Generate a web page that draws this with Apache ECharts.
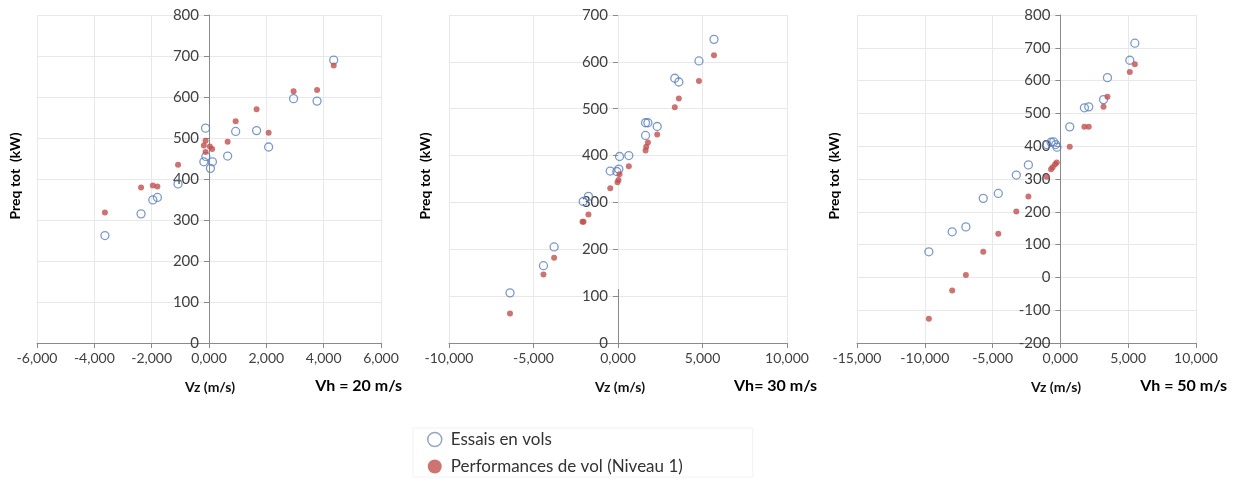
<!DOCTYPE html>
<html><head><meta charset="utf-8">
<script src="https://cdn.jsdelivr.net/npm/echarts@6/dist/echarts.min.js"></script>
<style>html,body{margin:0;padding:0;background:#fff}#c{width:1233px;height:482px}</style>
</head><body><div id="c"></div>
<script>
// ---- Data (Vz in m/s, Preq tot in kW) ----
const seriesNames = ['Essais en vols', 'Performances de vol (Niveau 1)'];
const panelLabels = ['Vh = 20 m/s', 'Vh= 30 m/s', 'Vh = 50 m/s'];

// Panel 1 : Vh = 20 m/s
const p1EssaisVz = [-3.63, -2.37, -1.96, -1.80, -1.08, -0.12, -0.18, -0.11, 0.12, 0.05, 0.65, 0.93, 1.66, 2.08, 2.95, 3.77, 4.35];
const p1EssaisP  = [262, 315, 349, 355, 388, 524, 442, 455, 442, 426, 456, 516, 518, 478, 596, 590, 690];
const p1PerfVz   = [-3.63, -2.37, -1.96, -1.80, -1.08, -0.18, -0.12, -0.12, 0.03, 0.11, 0.65, 0.93, 1.66, 2.08, 2.95, 3.77, 4.35];
const p1PerfP    = [318, 379, 384, 382, 435, 482, 493, 466, 479, 473, 491, 541, 570, 513, 614, 617, 677];

// Panel 2 : Vh = 30 m/s
const p2EssaisVz = [-6.39, -4.41, -3.78, -2.06, -1.75, -0.46, -0.07, 0.05, 0.09, 0.64, 1.63, 1.63, 1.77, 2.32, 3.36, 3.60, 4.79, 5.68];
const p2EssaisP  = [107, 165, 205, 302, 313, 367, 366, 371, 398, 400, 443, 470, 470, 462, 565, 557, 602, 648];
const p2PerfVz   = [-6.39, -4.41, -3.78, -2.10, -2.04, -1.75, -0.46, -0.03, 0.03, 0.09, 0.64, 1.63, 1.67, 1.77, 2.32, 3.36, 3.60, 4.79, 5.68];
const p2PerfP    = [63, 146, 182, 259, 259, 274, 330, 343, 348, 360, 377, 411, 419, 428, 445, 503, 522, 559, 614];

// Panel 3 : Vh = 50 m/s
const p3EssaisVz = [-9.70, -7.98, -6.97, -5.69, -4.58, -3.25, -2.36, -1.01, -0.69, -0.50, -0.35, -0.25, 0.69, 1.77, 2.09, 3.18, 3.47, 5.12, 5.49];
const p3EssaisP  = [78, 139, 154, 241, 256, 312, 343, 405, 412, 413, 405, 397, 459, 517, 520, 542, 609, 662, 714];
const p3PerfVz   = [-9.70, -7.98, -6.97, -5.69, -4.58, -3.25, -2.36, -1.01, -0.69, -0.57, -0.39, -0.27, 0.69, 1.77, 2.09, 3.18, 3.47, 5.12, 5.49];
const p3PerfP    = [-126, -40, 7, 78, 133, 201, 247, 307, 330, 336, 345, 350, 398, 459, 459, 520, 551, 626, 650];

// Axis ranges
const xMin = [-6, -10, -15], xMax = [6, 10, 10], xStep = [2, 5, 5];
const yMin = [0, 0, -200], yMax = [800, 700, 800], yStep = [100, 100, 100];
// visible stub of the vertical axis line in panel 2 (kW)
const p2AxisStub = [0, 115];

// ---- Layout / style ----
const FONT = 'Lato, "Open Sans", sans-serif';
const BLUE = '#5a80bd', RED = '#c0504d';
const grids = [
  {left: 37, top: 15, width: 344, height: 328},
  {left: 449, top: 15, width: 338, height: 328},
  {left: 857, top: 15, width: 339, height: 328}
];
const zip = (a, b) => a.map((v, i) => [v, b[i]]);
const fmtX = v => v.toFixed(3).replace('.', ',');

const essais = [zip(p1EssaisVz, p1EssaisP), zip(p2EssaisVz, p2EssaisP), zip(p3EssaisVz, p3EssaisP)];
const perf = [zip(p1PerfVz, p1PerfP), zip(p2PerfVz, p2PerfP), zip(p3PerfVz, p3PerfP)];

const xAxes = [], yAxes = [], series = [], graphics = [];
grids.forEach((g, i) => {
  // place the vertical axis where Vz = 0 (shift from grid's left edge)
  const zeroShift = g.width * (0 - xMin[i]) / (xMax[i] - xMin[i]);
  xAxes.push({
    type: 'value', gridIndex: i, min: xMin[i], max: xMax[i], interval: xStep[i],
    axisLine: {onZero: false, lineStyle: {color: '#8a8a8a', width: 1}},
    axisTick: {show: true, length: 5, lineStyle: {color: '#8a8a8a'}},
    axisLabel: {formatter: fmtX, color: '#404040', fontSize: 14, fontFamily: FONT, margin: 8},
    splitLine: {show: true, lineStyle: {color: '#e8e8e8', width: 1}}
  });
  yAxes.push({
    type: 'value', gridIndex: i, min: yMin[i], max: yMax[i], interval: yStep[i],
    position: 'left', offset: -zeroShift,
    axisLine: {show: i !== 1, onZero: false, lineStyle: {color: '#8a8a8a', width: 1}},
    axisTick: {show: true, length: 5, lineStyle: {color: '#8a8a8a'}},
    axisLabel: {color: '#404040', fontSize: 15, fontFamily: FONT, margin: 10},
    splitLine: {show: true, lineStyle: {color: '#e8e8e8', width: 1}}
  });
  const blue = {
    name: seriesNames[0], type: 'scatter', xAxisIndex: i, yAxisIndex: i,
    data: essais[i], symbol: 'circle', symbolSize: 8,
    itemStyle: {color: 'rgba(255,255,255,0)', borderColor: BLUE, borderWidth: 1.3},
    emphasis: {disabled: true}, z: 3
  };
  if (i === 1) {
    blue.markLine = {
      silent: true, symbol: 'none', animation: false,
      label: {show: false},
      lineStyle: {color: '#8a8a8a', type: 'solid', width: 1},
      data: [[{coord: [0, p2AxisStub[0]]}, {coord: [0, p2AxisStub[1]]}]]
    };
  }
  series.push(blue);
  series.push({
    name: seriesNames[1], type: 'scatter', xAxisIndex: i, yAxisIndex: i,
    data: perf[i], symbol: 'circle', symbolSize: 6,
    itemStyle: {color: RED}, emphasis: {disabled: true}, z: 4
  });
});

const yTitleX = [15, 425, 834];
const xTitleX = [210, 620, 1056];
const vhRight = [402, 817, 1227];
for (let i = 0; i < 3; i++) {
  graphics.push({
    type: 'text', x: yTitleX[i], y: 176, rotation: Math.PI / 2,
    style: {text: 'Preq tot  (kW)', font: 'bold 14px ' + FONT, fill: '#000', textAlign: 'center', textVerticalAlign: 'middle'}
  });
  graphics.push({
    type: 'text', x: xTitleX[i], y: 387,
    style: {text: 'Vz (m/s)', font: 'bold 14px ' + FONT, fill: '#111', textAlign: 'center', textVerticalAlign: 'middle'}
  });
  graphics.push({
    type: 'text', x: vhRight[i], y: 386,
    style: {text: panelLabels[i], font: 'bold 16px ' + FONT, fill: '#000', textAlign: 'right', textVerticalAlign: 'middle'}
  });
}

const chart = echarts.init(document.getElementById('c'), null, {renderer: 'canvas'});
chart.setOption({
  animation: false,
  backgroundColor: '#fff',
  grid: grids,
  xAxis: xAxes,
  yAxis: yAxes,
  series: series,
  legend: {
    orient: 'vertical', left: 413, top: 428, padding: [3, 70, 2, 14],
    borderColor: '#f2f2f2', borderWidth: 1,
    itemWidth: 14, itemHeight: 14, itemGap: 10,
    textStyle: {fontSize: 17, color: '#333', fontFamily: FONT, padding: [0, 0, 0, 4]},
    data: [
      {name: seriesNames[0], icon: 'circle', itemStyle: {color: 'rgba(255,255,255,0)', borderColor: '#7c8fb8', borderWidth: 1.5}},
      {name: seriesNames[1], icon: 'circle', itemStyle: {color: RED}}
    ]
  },
  graphic: graphics
});
</script>
</body></html>
